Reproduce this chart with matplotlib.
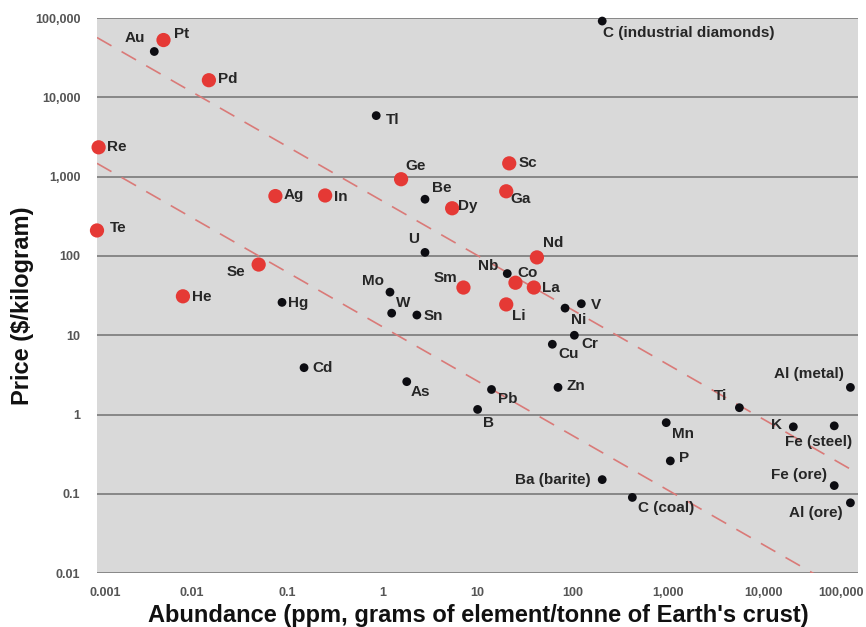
"""Price vs crustal abundance of the elements, log-log scatter."""

import matplotlib.pyplot as plt
from matplotlib.ticker import FixedLocator, NullLocator
from matplotlib.transforms import offset_copy

plt.rcParams["font.family"] = ["Liberation Sans", "DejaVu Sans"]

# element, abundance (ppm), price ($/kg), critical (drawn red)
names = [
    "Au", "Pt", "Pd", "Tl", "Re", "Ge", "Ag", "In", "Be", "Te", "U", "Se",
    "He", "Hg", "Mo", "W", "Sn", "C (industrial diamonds)", "Sc", "Ga", "Dy",
    "Nd", "Nb", "Co", "La", "Sm", "Li", "V", "Ni", "Cr", "Cu", "Zn", "Pb", "B",
    "Mn", "P", "Ba (barite)", "C (coal)", "Ti", "K", "Fe (steel)", "Al (metal)",
    "Fe (ore)", "Al (ore)", "As", "Cd",
]
abundance = [
    0.004, 0.005, 0.015, 0.86, 0.00104, 1.57, 0.075, 0.25, 2.8, 0.001, 2.8, 0.05,
    0.008, 0.088, 1.2, 1.25, 2.3, 204, 21.5, 20, 5.4,
    42, 20.5, 25, 39, 7.1, 20, 123, 83, 104, 61, 70, 14, 10,
    960, 1060, 204, 423, 5640, 20800, 56000, 82800,
    56000, 82800, 1.8, 0.15,
]
price = [
    38000, 53000, 16500, 5900, 2350, 930, 570, 580, 520, 210, 111, 78,
    31, 26, 35, 19, 18, 92000, 1475, 655, 400,
    96, 60, 46, 40, 40, 24.5, 25, 22, 10, 7.7, 2.2, 2.07, 1.16,
    0.79, 0.26, 0.151, 0.09, 1.22, 0.70, 0.72, 2.2,
    0.127, 0.077, 2.6, 3.9,
]
critical = [
    False, True, True, False, True, True, True, True, False, True, False, True,
    True, False, False, False, False, False, True, True, True,
    True, False, True, True, True, True, False, False, False, False, False, False, False,
    False, False, False, False, False, False, False, False,
    False, False, False, False,
]

# two guide lines (abundance, price endpoints)
trend_x = [0.001, 100000]
upper_trend_y = [57000, 0.18]
lower_trend_y = [1475, 0.0047]

x_ticks = [0.001, 0.01, 0.1, 1, 10, 100, 1000, 10000, 100000]
x_tick_labels = ["0.001", "0.01", "0.1", "1", "10", "100", "1,000", "10,000", "100,000"]
y_ticks = [0.01, 0.1, 1, 10, 100, 1000, 10000, 100000]
y_tick_labels = ["0.01", "0.1", "1", "10", "100", "1,000", "10,000", "100,000"]

# label placement: offset in pixels from the dot, horizontal alignment
label_offsets = {
    "Au": (-19, 13, "center"), "Pt": (18, 6, "center"), "Pd": (19, 1, "center"),
    "Tl": (16, -4, "center"), "Re": (18, 0, "center"), "Ge": (14, 13, "center"),
    "Ag": (18, 1, "center"), "In": (16, -2, "center"), "Be": (17, 11, "center"),
    "Te": (21, 2, "center"), "U": (-11, 13, "center"), "Se": (-23, -7, "center"),
    "He": (19, -1, "center"), "Hg": (16, -1, "center"), "Mo": (-17, 11, "center"),
    "W": (12, 10, "center"), "Sn": (16, -1, "center"),
    "C (industrial diamonds)": (1, -12, "left"),
    "Sc": (19, 0, "center"), "Ga": (14, -8, "center"), "Dy": (16, 2, "center"),
    "Nd": (16, 14, "center"), "Nb": (-19, 8, "center"), "Co": (12, 10, "center"),
    "La": (17, 0, "center"), "Sm": (-18, 10, "center"), "Li": (13, -12, "center"),
    "V": (15, -1, "center"), "Ni": (14, -12, "center"), "Cr": (15, -9, "center"),
    "Cu": (16, -10, "center"), "Zn": (18, 1, "center"), "Pb": (16, -10, "center"),
    "B": (11, -14, "center"), "Mn": (17, -11, "center"), "P": (14, 3, "center"),
    "Ba (barite)": (-12, 0, "right"), "C (coal)": (6, -11, "left"),
    "Ti": (-19, 12, "center"), "K": (-17, 2, "center"),
    "Fe (steel)": (-16, -16, "center"), "Al (metal)": (-7, 13, "right"),
    "Fe (ore)": (-7, 11, "right"), "Al (ore)": (-8, -10, "right"),
    "As": (14, -10, "center"), "Cd": (19, 0, "center"),
}

fig = plt.figure(figsize=(8.66, 6.27), dpi=100)
ax = fig.add_axes([0.112, 0.086, 0.879, 0.885])
ax.set_facecolor("#d9d9d9")
ax.set_xscale("log")
ax.set_yscale("log")
ax.set_xlim(0.001, 100000)
ax.set_ylim(0.01, 100000)

for spine in ax.spines.values():
    spine.set_visible(False)

ax.xaxis.set_major_locator(FixedLocator(x_ticks))
ax.yaxis.set_major_locator(FixedLocator(y_ticks))
ax.xaxis.set_minor_locator(NullLocator())
ax.yaxis.set_minor_locator(NullLocator())
ax.set_xticklabels(x_tick_labels)
ax.set_yticklabels(y_tick_labels)
ax.tick_params(length=0, labelsize=9, labelcolor="#555555")
ax.tick_params(axis="x", pad=10)
ax.tick_params(axis="y", pad=12)
for lbl in ax.get_xticklabels() + ax.get_yticklabels():
    lbl.set_fontweight("bold")

ax.grid(axis="y", color="#7a7a7a", linewidth=1.2)
ax.set_axisbelow(True)

# keep the end labels inside the figure
xlabels = ax.get_xticklabels()
xlabels[0].set_transform(offset_copy(xlabels[0].get_transform(), fig=fig, x=8, units="dots"))
xlabels[-1].set_horizontalalignment("right")
xlabels[-1].set_transform(offset_copy(xlabels[-1].get_transform(), fig=fig, x=6, units="dots"))

for trend_y in (upper_trend_y, lower_trend_y):
    ax.plot(trend_x, trend_y, color="#da7a78", linewidth=1.2,
            dashes=(10, 7), zorder=2)

red_x = [a for a, c in zip(abundance, critical) if c]
red_y = [p for p, c in zip(price, critical) if c]
black_x = [a for a, c in zip(abundance, critical) if not c]
black_y = [p for p, c in zip(price, critical) if not c]
ax.scatter(red_x, red_y, s=105, color="#e53935", edgecolors="none", zorder=3,
           clip_on=False)
ax.scatter(black_x, black_y, s=40, color="#0d0d12", edgecolors="none", zorder=4,
           clip_on=False)

for name, a, p in zip(names, abundance, price):
    dx, dy, ha = label_offsets[name]
    ax.annotate(name, (a, p), xytext=(dx, dy), textcoords="offset pixels",
                ha=ha, va="center", fontsize=11, fontweight="bold",
                color="#262626", zorder=5, annotation_clip=False)

fig.text(0.552, 0.0075, "Abundance (ppm, grams of element/tonne of Earth's crust)",
         ha="center", va="baseline", fontsize=17, fontweight="bold", color="#111111")
fig.text(0.026, 0.512, "Price ($/kilogram)", rotation=90,
         ha="center", va="center", fontsize=17, fontweight="bold", color="#111111")

fig.savefig("out.png", dpi=100)
